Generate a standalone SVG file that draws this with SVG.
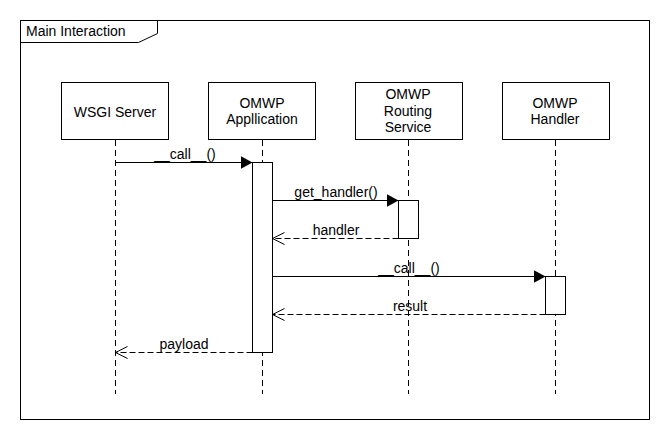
<svg xmlns="http://www.w3.org/2000/svg" width="670" height="440" viewBox="0 0 670 440">
<defs>
<style>
text{font-family:"Liberation Sans",Arial,sans-serif;font-size:14px;fill:#000;}
.box{fill:#fff;stroke:#000;stroke-width:1;}
.life{stroke:#000;stroke-width:1;stroke-dasharray:6,4;fill:none;}
.msg{stroke:#000;stroke-width:1;fill:none;}
.ret{stroke:#000;stroke-width:1;stroke-dasharray:6,3;fill:none;}
.mid{text-anchor:middle;}
</style>
<marker id="filled" markerWidth="12" markerHeight="13" refX="12" refY="6.5" orient="auto" markerUnits="userSpaceOnUse">
<path d="M0,0 L12,6.5 L0,13 Z" fill="#000"/>
</marker>
<marker id="open" markerWidth="14" markerHeight="14" refX="12.5" refY="7" orient="auto" markerUnits="userSpaceOnUse">
<path d="M0.5,1 L12.5,7 L0.5,13" fill="none" stroke="#000" stroke-width="1"/>
</marker>
</defs>
<rect width="670" height="440" fill="#fff"/>
<g id="frame">
<rect x="20.5" y="20.5" width="629" height="399" fill="none" stroke="#000"/>
<path d="M20.5,42.5 H138.5 L157.5,33.5 V20.5" fill="none" stroke="#000"/>
<text x="26" y="36">Main Interaction</text>
</g>
<g id="lifelines">
<line class="life" x1="115.5" y1="140" x2="115.5" y2="394"/>
<line class="life" x1="262.5" y1="140" x2="262.5" y2="394"/>
<line class="life" x1="408.5" y1="140" x2="408.5" y2="394"/>
<line class="life" x1="555.5" y1="140" x2="555.5" y2="394"/>
</g>
<g id="wsgi">
<rect class="box" x="61.5" y="82.5" width="107" height="57"/>
<text class="mid" x="115" y="117">WSGI Server</text>
</g>
<g id="app">
<rect class="box" x="208.5" y="82.5" width="107" height="57"/>
<text class="mid" x="262" y="108">OMWP</text>
<text class="mid" x="262" y="124">Appllication</text>
</g>
<g id="routing">
<rect class="box" x="355.5" y="82.5" width="107" height="57"/>
<text class="mid" x="408" y="99">OMWP</text>
<text class="mid" x="408" y="116">Routing</text>
<text class="mid" x="408" y="132">Service</text>
</g>
<g id="handler">
<rect class="box" x="502.5" y="82.5" width="107" height="57"/>
<text class="mid" x="555" y="108">OMWP</text>
<text class="mid" x="555" y="124">Handler</text>
</g>
<g id="activations">
<rect class="box" x="252.5" y="162.5" width="20" height="190"/>
<rect class="box" x="398.5" y="200.5" width="20" height="38"/>
<rect class="box" x="545.5" y="276.5" width="20" height="38"/>
</g>
<g id="connectors">
<line class="msg" x1="115.5" y1="162.5" x2="252.5" y2="162.5" marker-end="url(#filled)"/>
<text class="mid" x="185" y="159">__call__()</text>
<line class="msg" x1="272.5" y1="200.5" x2="398.5" y2="200.5" marker-end="url(#filled)"/>
<text class="mid" x="336" y="197">get_handler()</text>
<line class="ret" x1="398.5" y1="238.5" x2="272.5" y2="238.5" marker-end="url(#open)"/>
<text class="mid" x="336" y="235">handler</text>
<line class="msg" x1="272.5" y1="276.5" x2="545.5" y2="276.5" marker-end="url(#filled)"/>
<text class="mid" x="409" y="273">__call__()</text>
<line class="ret" x1="545.5" y1="314.5" x2="272.5" y2="314.5" marker-end="url(#open)"/>
<text class="mid" x="410" y="311">result</text>
<line class="ret" x1="252.5" y1="352.5" x2="115.5" y2="352.5" marker-end="url(#open)"/>
<text class="mid" x="184" y="349">payload</text>
</g>
</svg>
